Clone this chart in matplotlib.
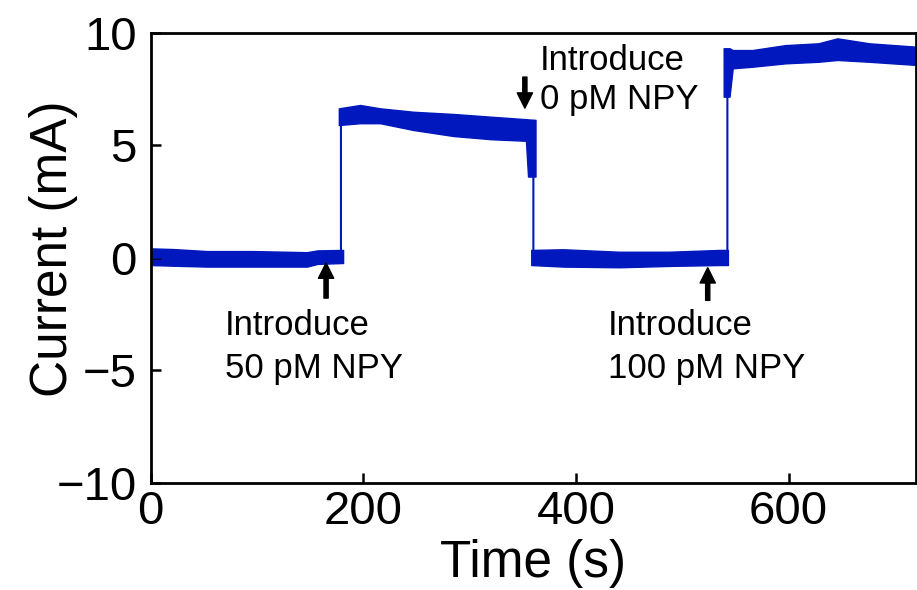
import matplotlib.pyplot as plt
import numpy as np

plt.rcParams['font.family'] = ['Liberation Sans', 'DejaVu Sans']

# current band (upper / lower envelope of the noisy trace)
base1_t = [0, 21, 53, 96, 147, 157, 181]
base1_hi = [0.41, 0.38, 0.29, 0.29, 0.24, 0.32, 0.34]
base1_lo = [-0.33, -0.36, -0.40, -0.40, -0.40, -0.28, -0.24]

plat1_t = [177, 197, 216, 247, 285, 320, 353, 355, 362]
plat1_hi = [6.63, 6.78, 6.63, 6.48, 6.38, 6.26, 6.15, 6.14, 6.12]
plat1_lo = [5.89, 5.97, 5.97, 5.67, 5.40, 5.26, 5.19, 3.60, 3.60]

base2_t = [358, 388, 441, 488, 535, 543]
base2_hi = [0.34, 0.37, 0.26, 0.26, 0.34, 0.34]
base2_lo = [-0.33, -0.40, -0.43, -0.37, -0.33, -0.33]

plat2_t = [539, 544.5, 547.5, 566, 597, 628, 646, 676, 720]
plat2_hi = [9.30, 9.30, 9.22, 9.22, 9.44, 9.52, 9.74, 9.52, 9.37]
plat2_lo = [7.15, 7.15, 8.41, 8.48, 8.63, 8.70, 8.78, 8.70, 8.56]

# thin trace through the steps
trace_t = [0, 179, 179, 360, 360, 542.5, 542.5, 720]
trace_i = [0.0, 0.0, 6.2, 5.6, 0.0, 0.0, 8.9, 9.0]

blue = '#0018BE'

fig = plt.figure(figsize=(9.17, 5.90), dpi=100)
ax = fig.add_axes([0.1643, 0.1819, 0.8347, 0.7630])

ax.plot(trace_t, trace_i, color=blue, lw=1.5)
for t, hi, lo in [(base1_t, base1_hi, base1_lo), (plat1_t, plat1_hi, plat1_lo),
                  (base2_t, base2_hi, base2_lo), (plat2_t, plat2_hi, plat2_lo)]:
    ax.fill_between(t, lo, hi, color=blue, lw=1.0, edgecolor=blue)

# annotations
arw = dict(facecolor='black', edgecolor='black', width=3, headwidth=11, headlength=11, shrink=0)
ax.annotate('', xy=(165, -0.24), xytext=(165, -1.80), arrowprops=arw)
ax.annotate('', xy=(352, 6.64), xytext=(352, 8.02), arrowprops=arw)
ax.annotate('', xy=(524, -0.45), xytext=(524, -1.90), arrowprops=arw)

fs = 25
ax.text(70, -3.44, 'Introduce', fontsize=fs, va='baseline')
ax.text(70, -5.35, '50 pM NPY', fontsize=fs, va='baseline')
ax.text(366, 8.33, 'Introduce', fontsize=fs, va='baseline')
ax.text(366, 6.60, '0 pM NPY', fontsize=fs, va='baseline')
ax.text(430, -3.44, 'Introduce', fontsize=fs, va='baseline')
ax.text(430, -5.35, '100 pM NPY', fontsize=fs, va='baseline')

ax.set_xlim(0, 720)
ax.set_ylim(-10, 10)
ax.set_xticks([0, 200, 400, 600])
ax.set_yticks([-10, -5, 0, 5, 10])
ax.tick_params(direction='in', length=7, width=1.8, labelsize=34, pad=5,
               top=False, right=False)
ax.tick_params(axis='y', pad=10)
for s in ax.spines.values():
    s.set_linewidth(2)

ax.set_xlabel('Time (s)', fontsize=37, labelpad=4)
ax.set_ylabel('Current (mA)', fontsize=37)
ax.yaxis.set_label_coords(-0.095, 0.519)

fig.savefig('out.png', dpi=100)
